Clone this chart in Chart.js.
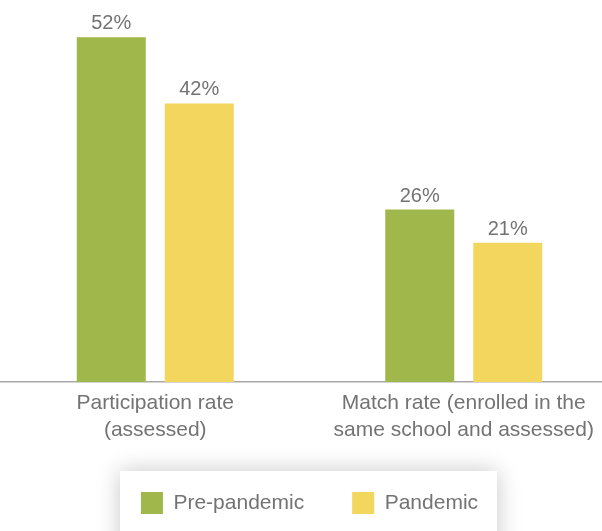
<!DOCTYPE html>
<html>
<head>
<meta charset="utf-8">
<script src="https://cdn.jsdelivr.net/npm/chart.js@4.4.1/dist/chart.umd.min.js"></script>
<style>
  html, body { margin: 0; padding: 0; background: #fff; overflow: hidden; }
  #wrap { position: relative; width: 620px; height: 531px; }
</style>
</head>
<body>
<div id="wrap"><canvas id="barChart"></canvas></div>
<script>
const categories = [
  ["Participation rate", "(assessed)"],
  ["Match rate (enrolled in the", "same school and assessed)"],
];
const seriesNames = ["Pre-pandemic", "Pandemic"];
const prePandemic = [52, 26];
const pandemic = [42, 21];

const textGray = "#737373";
Chart.defaults.font.family = "'Liberation Sans', Arial, sans-serif";
Chart.defaults.color = textGray;

// white legend card with soft shadow, drawn behind everything
const legendCard = {
  id: "legendCard",
  beforeDraw(chart) {
    const ctx = chart.ctx;
    ctx.save();
    ctx.shadowColor = "rgba(0,0,0,0.22)";
    ctx.shadowBlur = 22;
    ctx.fillStyle = "#fff";
    ctx.fillRect(120, 471, 377, 120);
    ctx.restore();
  },
};

// percent labels above each bar
const barLabels = {
  id: "barLabels",
  afterDatasetsDraw(chart) {
    const ctx = chart.ctx;
    ctx.save();
    ctx.font = "20px 'Liberation Sans', Arial, sans-serif";
    ctx.fillStyle = textGray;
    ctx.textAlign = "center";
    ctx.textBaseline = "alphabetic";
    chart.data.datasets.forEach((ds, i) => {
      chart.getDatasetMeta(i).data.forEach((bar, j) => {
        ctx.fillText(ds.data[j] + "%", bar.x, bar.y - 8);
      });
    });
    ctx.restore();
  },
};

const barCtx = document.getElementById("barChart").getContext("2d");
new Chart(barCtx, {
  type: "bar",
  data: {
    labels: categories,
    datasets: [
      {
        label: seriesNames[0],
        data: prePandemic,
        backgroundColor: "#a0b84b",
      },
      {
        label: seriesNames[1],
        data: pandemic,
        backgroundColor: "#f2d65e",
      },
    ],
  },
  options: {
    responsive: true,
    maintainAspectRatio: false,
    animation: false,
    categoryPercentage: 0.5705,
    barPercentage: 0.784,
    layout: { padding: { top: 4, left: 1, right: 2, bottom: 7 } },
    plugins: {
      legend: {
        position: "bottom",
        labels: {
          boxWidth: 22,
          boxHeight: 22,
          padding: 48,
          color: textGray,
          font: { size: 21 },
        },
      },
      tooltip: { enabled: false },
    },
    scales: {
      x: {
        grid: { display: false, drawTicks: false },
        border: { display: true, color: "#a8a8a8", width: 1.5 },
        ticks: {
          padding: 8,
          color: textGray,
          font: { size: 21, lineHeight: 1.286 },
          maxRotation: 0,
          autoSkip: false,
        },
        afterFit(scale) {
          scale.height = 62;
        },
      },
      y: { display: false, min: 0, max: 57 },
    },
  },
  plugins: [legendCard, barLabels],
});
</script>
</body>
</html>
